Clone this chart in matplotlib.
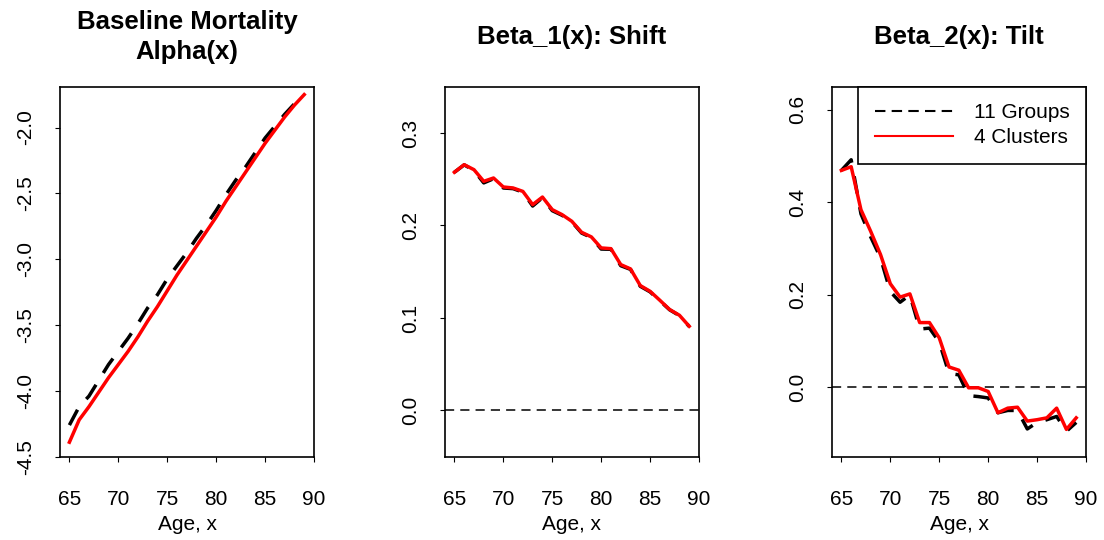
import matplotlib.pyplot as plt
from matplotlib.lines import Line2D

plt.rcParams['font.family'] = ['Liberation Sans', 'DejaVu Sans']
plt.rcParams['axes.unicode_minus'] = False

ages = list(range(65, 90))

# alpha(x): baseline log-mortality
alpha_groups = [-4.26, -4.12, -4.04, -3.92, -3.80, -3.70, -3.60, -3.49, -3.37, -3.27,
                -3.15, -3.05, -2.95, -2.84, -2.74, -2.63, -2.51, -2.40, -2.30, -2.19,
                -2.08, -1.99, -1.90, -1.82, -1.75]
alpha_clusters = [-4.39, -4.22, -4.12, -4.01, -3.90, -3.80, -3.70, -3.59, -3.47, -3.36,
                  -3.24, -3.12, -3.01, -2.90, -2.79, -2.68, -2.56, -2.45, -2.34, -2.23,
                  -2.12, -2.02, -1.92, -1.83, -1.75]

# beta_1(x): shift
beta1_groups = [0.2575, 0.2655, 0.2595, 0.2460, 0.2505, 0.2405, 0.2398, 0.2360, 0.2210, 0.2300,
                0.2160, 0.2110, 0.2040, 0.1918, 0.1870, 0.1745, 0.1742, 0.1565, 0.1525, 0.1342,
                0.1282, 0.1185, 0.1088, 0.1025, 0.0908]
beta1_clusters = [0.2575, 0.2657, 0.2603, 0.2477, 0.2513, 0.2416, 0.2405, 0.2368, 0.2225, 0.2307,
                  0.2171, 0.2117, 0.2045, 0.1926, 0.1876, 0.1757, 0.1749, 0.1577, 0.1530, 0.1350,
                  0.1288, 0.1191, 0.1091, 0.1029, 0.0910]

# beta_2(x): tilt
beta2_groups = [0.469, 0.492, 0.375, 0.325, 0.280, 0.207, 0.184, 0.200, 0.126, 0.128,
                0.098, 0.030, 0.027, -0.018, -0.020, -0.023, -0.055, -0.050, -0.050, -0.090,
                -0.076, -0.070, -0.063, -0.095, -0.076]
beta2_clusters = [0.469, 0.477, 0.384, 0.337, 0.287, 0.224, 0.195, 0.202, 0.140, 0.140,
                  0.107, 0.044, 0.037, -0.001, -0.001, -0.009, -0.055, -0.045, -0.043, -0.073,
                  -0.070, -0.066, -0.045, -0.091, -0.066]

titles = ["Baseline Mortality\nAlpha(x)", "Beta_1(x): Shift", "Beta_2(x): Tilt"]
ylims = [(-4.5, -1.69), (-0.05, 0.35), (-0.15, 0.65)]
yticks = [[-4.5, -4.0, -3.5, -3.0, -2.5, -2.0], [0.0, 0.1, 0.2, 0.3], [0.0, 0.2, 0.4, 0.6]]
groups = [alpha_groups, beta1_groups, beta2_groups]
clusters = [alpha_clusters, beta1_clusters, beta2_clusters]

fig = plt.figure(figsize=(11.04, 5.4), dpi=100)
lefts = [60 / 1104, 445 / 1104, 832 / 1104]
W, H = 254 / 1104, 370 / 540
B = (540 - 456.7) / 540

for i in range(3):
    ax = fig.add_axes([lefts[i], B, W, H])
    ax.plot(ages, groups[i], color='black', lw=2.5, linestyle=(0, (5, 4)), zorder=2)
    ax.plot(ages, clusters[i], color='red', lw=2.5, zorder=3)
    if i > 0:
        ax.axhline(0, color='black', lw=1.1, linestyle=(0, (6, 4)), zorder=1)
    ax.set_xlim(64.04, 89.96)
    ax.set_ylim(*ylims[i])
    ax.set_xticks([65, 70, 75, 80, 85, 90])
    ax.set_yticks(yticks[i])
    ax.set_yticklabels(["{:.1f}".format(v) for v in yticks[i]], rotation=90, va='center')
    ax.tick_params(axis='both', direction='out', length=3.6, width=0.8, labelsize=15)
    ax.tick_params(axis='x', pad=20.5)
    ax.tick_params(axis='y', pad=14)
    for s in ax.spines.values():
        s.set_linewidth(1.2)
    ax.set_xlabel("Age, x", fontsize=15)
    ax.xaxis.set_label_coords(0.5, -0.158)
    fig.text(lefts[i] + W / 2, 1 - 37 / 540, titles[i], ha='center', va='center',
             fontsize=18.5, fontweight='bold', linespacing=1.3)

    if i == 2:
        handles = [Line2D([], [], color='black', lw=1.5, linestyle=(0, (5, 3))),
                   Line2D([], [], color='red', lw=1.5)]
        leg = ax.legend(handles, ["11 Groups", "4 Clusters"], loc='upper right',
                        bbox_to_anchor=(1, 1), borderaxespad=0, fontsize=15,
                        fancybox=False, framealpha=1, edgecolor='black',
                        handlelength=3.75, handletextpad=1.0, borderpad=0.8,
                        labelspacing=0.29)
        leg.get_frame().set_linewidth(1.2)

fig.savefig("out.png", dpi=100)
